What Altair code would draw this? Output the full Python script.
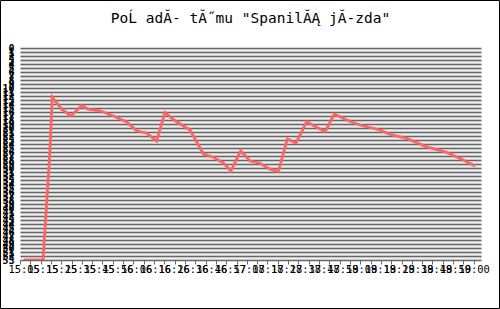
import altair as alt
import pandas as pd

# Time in minutes since 15:05 and team rank (1 = best, shown at top)
minutes = [2.1, 12.3, 16.0, 17.2, 22.2, 27.2, 32.9, 36.4, 42.7, 49.8, 56.9, 62.2,
           67.6, 72.9, 77.3, 82.7, 90.7, 97.8, 103.1, 108.4, 112.5, 117.7, 122.7,
           128.0, 133.3, 137.8, 142.6, 147.2, 152.9, 158.2, 162.8, 167.6, 174.2,
           181.3, 192.0, 197.3, 206.2, 216.9, 227.6, 234.7, 242.7]
ranks = [53, 53, 25.5, 12.3, 15.3, 17.0, 14.4, 15.3, 15.7, 17.0, 18.5, 20.7,
         21.3, 23.25, 16.1, 18.2, 20.5, 26.5, 27.3, 28.7, 30.75, 25.7, 28.25,
         28.8, 30.3, 30.9, 22.75, 23.8, 18.4, 19.8, 20.9, 16.5, 18.0, 19.25,
         20.5, 21.6, 22.6, 24.7, 26.1, 27.6, 29.5]

# x tick labels (overlapping, as in the original)
label_texts = ["15:05", "15:15", "15:25", "15:35", "15:45", "15:56", "16:06", "16:16",
               "16:26", "16:36", "16:46", "16:57", "17:08", "17:18", "17:28", "17:38",
               "17:48", "17:59", "18:09", "18:19", "18:29", "18:39", "18:49", "18:50",
               "19:00"]
label_values = [i * 10 for i in range(len(label_texts))]
tick_values = [i * 5.5 for i in range(45)]
rank_values = list(range(0, 54))

title_text = 'PoĹ adĂ- tĂ˝mu "SpanilĂĄ jĂ-zda"'

df = pd.DataFrame({"t": minutes, "rank": ranks})
x_domain = [0, 245.87]
mono = "DejaVu Sans Mono"

xscale = alt.Scale(domain=x_domain, nice=False, zero=False)
yscale = alt.Scale(domain=[0, 53], reverse=True, nice=False, zero=False)
y_axis = alt.Axis(values=rank_values, grid=True, gridColor="#666666",
                  gridWidth=1.5, ticks=False, domain=False, labelFont=mono,
                  labelFontSize=10, labelFontWeight="bold", labelColor="black",
                  labelPadding=6, labelOverlap=False, labelFlush=False,
                  labelBound=False, title=None)

line = alt.Chart(df).mark_line(color="#ff6363", strokeWidth=2.8, clip=True).encode(
    x=alt.X("t:Q", scale=xscale,
            axis=alt.Axis(orient="bottom", values=tick_values, labels=False, grid=False,
                          domain=False, ticks=True, tickSize=4, tickColor="#666666",
                          title=None)),
    y=alt.Y("rank:Q", scale=yscale, axis=y_axis),
)

labels_layer = alt.Chart(df).mark_line(opacity=0).encode(
    x=alt.X("t:Q", scale=xscale,
            axis=alt.Axis(orient="bottom", values=label_values, grid=False, domain=False,
                          ticks=False, labelFont=mono, labelFontSize=10.4,
                          labelColor="black", labelAlign="left", labelOffset=-12,
                          labelPadding=4, labelOverlap=False, labelFlush=False,
                          labelBound=False,
                          labelExpr="[" + ",".join('"%s"' % s for s in label_texts) +
                                    "][round(datum.value / 10)]",
                          title=None)),
    y=alt.Y("rank:Q", scale=yscale, axis=y_axis),
)

frame = alt.Chart(pd.DataFrame({"a": [0]})).mark_rect(
    filled=False, stroke="black", strokeWidth=1
).encode(
    x=alt.value(-19.5), x2=alt.value(479.5), y=alt.value(-47.5), y2=alt.value(260.5)
)

chart = alt.layer(line, labels_layer, frame).resolve_axis(x="independent").properties(
    width=461,
    height=212,
    padding={"left": 20, "top": 48, "right": 19, "bottom": 49},
    autosize=alt.AutoSizeParams(type="none"),
    background="white",
    title=alt.TitleParams(text=title_text, font=mono, fontSize=14.5, fontWeight="normal",
                          color="black", anchor="middle", offset=-26),
).configure_view(fill="#ececec", stroke="transparent")

chart.save("out.html", embed_options={"renderer": "svg", "actions": False})
